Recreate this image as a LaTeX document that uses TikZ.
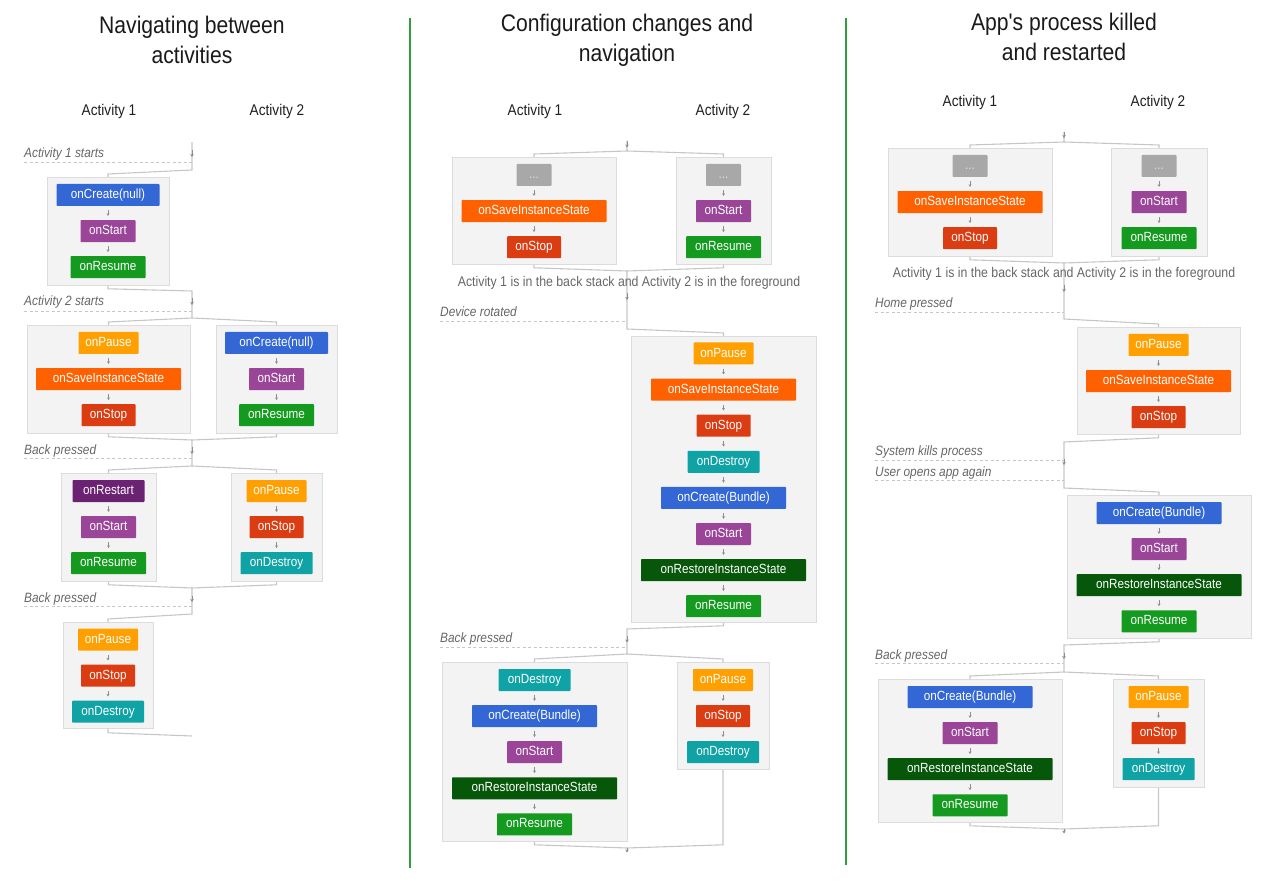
\documentclass[tikz,border=0pt]{standalone}
\usepackage{fontspec}
\setmainfont{Liberation Sans}[FakeStretch=0.88,Ligatures=TeXOff]
\usetikzlibrary{positioning,arrows.meta}
\definecolor{cBlue}{HTML}{3367D6}
\definecolor{cPurple}{HTML}{9A4598}
\definecolor{cGreen}{HTML}{149A1F}
\definecolor{cAmber}{HTML}{FFA000}
\definecolor{cSave}{HTML}{FF6100}
\definecolor{cStop}{HTML}{DB3C12}
\definecolor{cTeal}{HTML}{0FA3A6}
\definecolor{cRestart}{HTML}{6B2272}
\definecolor{cRestore}{HTML}{07570A}
\definecolor{cDots}{HTML}{A8A8A8}
\definecolor{cCont}{HTML}{F3F3F3}
\definecolor{cContB}{HTML}{DCDCDC}
\definecolor{cLine}{HTML}{C6C6C6}
\definecolor{cArr}{HTML}{8E8E8E}
\definecolor{cLbl}{HTML}{666666}
\definecolor{cDiv}{HTML}{2E9D3E}
\definecolor{cTitle}{HTML}{1A1A1A}
\newcommand\evarrow[2]{\draw[tarr] ([yshift=-4pt]#1.south) -- ([yshift=4pt]#2.north);}
\begin{document}
\begin{tikzpicture}[x=1pt,y=-1pt,node distance=13.7pt,
  ev/.style={rectangle,inner sep=0pt,minimum height=22pt,text=white,
    font=\fontsize{13.3}{15}\selectfont,text height=9.6pt,text depth=2.5pt,rounded corners=0.8pt},
  pause/.style={ev,fill=cAmber,minimum width=60pt},
  save/.style={ev,fill=cSave,minimum width=145pt},
  stopbox/.style={ev,fill=cStop,minimum width=54pt},
  destroy/.style={ev,fill=cTeal,minimum width=72pt},
  createN/.style={ev,fill=cBlue,minimum width=103pt},
  createB/.style={ev,fill=cBlue,minimum width=125pt},
  startbox/.style={ev,fill=cPurple,minimum width=55pt},
  resume/.style={ev,fill=cGreen,minimum width=75pt},
  restart/.style={ev,fill=cRestart,minimum width=72pt},
  restore/.style={ev,fill=cRestore,minimum width=165pt},
  dots/.style={ev,fill=cDots,minimum width=35pt,text=white!88!black},
  cont/.style={rectangle,fill=cCont,draw=cContB,line width=0.8pt,inner sep=0pt,anchor=north},
  conn/.style={draw=cLine,line width=1.1pt},
  tarr/.style={draw=cArr,line width=0.5pt,-{Stealth[length=2.6pt,width=3pt]}},
  sarr/.style={draw=cArr,line width=0.6pt,-{Stealth[length=3pt,width=3.6pt]}},
  dashl/.style={draw=cLine,line width=0.9pt,dash pattern=on 3pt off 2.5pt},
  lbl/.style={text=cLbl,font=\fontsize{13.5}{16}\selectfont\itshape,inner sep=0pt,anchor=base west},
  note/.style={text=cLbl,font=\fontsize{14}{16}\selectfont,inner sep=0pt},
  head/.style={text=black!88,font=\fontsize{15.5}{18}\selectfont,inner sep=0pt},
  title/.style={text=cTitle,font=\fontsize{24}{30}\selectfont,align=center,inner sep=0pt},
  divl/.style={draw=cDiv,line width=1.8pt}]
\useasboundingbox (0,0) rectangle (1272,890);

% dividers
\draw[divl] (410,18) -- (410,868);
\draw[divl] (846,18) -- (846,865);

% titles and headers
\node[title] (t1) at (192,40) {Navigating between\\activities};
\node[title] (t2) at (627,40) {Configuration changes and\\navigation};
\node[title] (t3) at (1064,37) {App's process killed\\and restarted};
\node[head] (h11) at (109,111) {Activity 1};
\node[head] (h12) at (277,111) {Activity 2};
\node[head] (h21) at (535,111) {Activity 1};
\node[head] (h22) at (723,111) {Activity 2};
\node[head] (h31) at (970,102) {Activity 1};
\node[head] (h32) at (1158,102) {Activity 2};

% ================= Column 1 =================
\node[lbl] (l11) at (24,157.5) {Activity 1 starts};
\draw[dashl] (24,162) -- (192,162);
\node[lbl] (l12) at (24,306) {Activity 2 starts};
\draw[dashl] (24,311) -- (192,311);
\node[lbl] (l13) at (24,454) {Back pressed};
\draw[dashl] (24,458) -- (192,458);
\node[lbl] (l14) at (24,602) {Back pressed};
\draw[dashl] (24,606) -- (192,606);

\node[cont,minimum width=122pt,minimum height=108pt] (b1) at (108,177) {};
\node[cont,minimum width=163pt,minimum height=108pt] (b2) at (108.5,325) {};
\node[cont,minimum width=121pt,minimum height=108pt] (b3) at (276.5,325) {};
\node[cont,minimum width=95pt,minimum height=108pt] (b4) at (108.5,473) {};
\node[cont,minimum width=91pt,minimum height=108pt] (b5) at (276.5,473) {};
\node[cont,minimum width=90pt,minimum height=106pt] (b6) at (108,622) {};

\coordinate (p1) at (192,142);
\coordinate (f1) at (192,170);
\coordinate (m1) at (192,291);
\coordinate (f2) at (192,318);
\coordinate (m2) at (192,440);
\coordinate (f3) at (192,466);
\coordinate (m3) at (192,588);
\coordinate (f4) at (192,614);
\coordinate (m4) at (192,736);

\draw[conn] (p1) -- (f1) -- ([yshift=3pt]b1.north) -- (b1.north);
\draw[conn] (b1.south) -- ([yshift=-3pt]b1.south) -- (m1) -- (f2) -- ([yshift=3pt]b2.north) -- (b2.north);
\draw[conn] (f2) -- ([yshift=3pt]b3.north) -- (b3.north);
\draw[conn] (b2.south) -- ([yshift=-3pt]b2.south) -- (m2);
\draw[conn] (b3.south) -- ([yshift=-3pt]b3.south) -- (m2) -- (f3) -- ([yshift=3pt]b4.north) -- (b4.north);
\draw[conn] (f3) -- ([yshift=3pt]b5.north) -- (b5.north);
\draw[conn] (b4.south) -- ([yshift=-3pt]b4.south) -- (m3);
\draw[conn] (b5.south) -- ([yshift=-3pt]b5.south) -- (m3) -- (f4) -- ([yshift=3pt]b6.north) -- (b6.north);
\draw[conn] (b6.south) -- ([yshift=-4pt]b6.south) -- (m4);
\draw[sarr] (192,150.5) -- (192,157);
\draw[sarr] (192,298.5) -- (192,305);
\draw[sarr] (192,447.5) -- (192,454);
\draw[sarr] (192,595.5) -- (192,602);

\node[createN] (b1a) at (108,195) {onCreate(null)};
\node[startbox,below=of b1a] (b1b) {onStart};
\node[resume,below=of b1b] (b1c) {onResume};
\evarrow{b1a}{b1b}\evarrow{b1b}{b1c}

\node[pause] (b2a) at (108.5,343) {onPause};
\node[save,below=of b2a] (b2b) {onSaveInstanceState};
\node[stopbox,below=of b2b] (b2c) {onStop};
\evarrow{b2a}{b2b}\evarrow{b2b}{b2c}

\node[createN] (b3a) at (276.5,343) {onCreate(null)};
\node[startbox,below=of b3a] (b3b) {onStart};
\node[resume,below=of b3b] (b3c) {onResume};
\evarrow{b3a}{b3b}\evarrow{b3b}{b3c}

\node[restart] (b4a) at (108.5,491) {onRestart};
\node[startbox,below=of b4a] (b4b) {onStart};
\node[resume,below=of b4b] (b4c) {onResume};
\evarrow{b4a}{b4b}\evarrow{b4b}{b4c}

\node[pause] (b5a) at (276.5,491) {onPause};
\node[stopbox,below=of b5a] (b5b) {onStop};
\node[destroy,below=of b5b] (b5c) {onDestroy};
\evarrow{b5a}{b5b}\evarrow{b5b}{b5c}

\node[pause] (b6a) at (108,639.5) {onPause};
\node[stopbox,below=of b6a] (b6b) {onStop};
\node[destroy,below=of b6b] (b6c) {onDestroy};
\evarrow{b6a}{b6b}\evarrow{b6b}{b6c}

% ================= Column 2 =================
\node[lbl] (l21) at (440,316.5) {Device rotated};
\draw[dashl] (440,321) -- (627,321);
\node[lbl] (l22) at (440,642) {Back pressed};
\draw[dashl] (440,647) -- (627,647);

\node[cont,minimum width=164pt,minimum height=107pt] (bA) at (534,157) {};
\node[cont,minimum width=95pt,minimum height=107pt] (bB) at (723.5,157) {};
\node[cont,minimum width=185pt,minimum height=286pt] (bC) at (723.5,336) {};
\node[cont,minimum width=185pt,minimum height=179pt] (bD) at (534.5,662) {};
\node[cont,minimum width=92pt,minimum height=107pt] (bE) at (723,662) {};

\coordinate (q0) at (627,141);
\coordinate (qf1) at (627,151);
\coordinate (qm1) at (627,271);
\coordinate (qf2) at (627,329);
\coordinate (qm2) at (627,629);
\coordinate (qf3) at (627,654);
\coordinate (qm3) at (627,848);
\coordinate (dD) at ([yshift=-3pt]bD.south);

\draw[conn] (q0) -- (qf1) -- ([yshift=3pt]bA.north) -- (bA.north);
\draw[conn] (qf1) -- ([yshift=3pt]bB.north) -- (bB.north);
\draw[conn] (bA.south) -- ([yshift=-3pt]bA.south) -- (qm1);
\draw[conn] (bB.south) -- ([yshift=-3pt]bB.south) -- (qm1) -- (qf2) -- ([yshift=3pt]bC.north) -- (bC.north);
\draw[conn] (bC.south) -- ([yshift=-3pt]bC.south) -- (qm2) -- (qf3) -- ([yshift=3pt]bD.north) -- (bD.north);
\draw[conn] (qf3) -- ([yshift=3pt]bE.north) -- (bE.north);
\draw[conn] (bD.south) -- (dD) -- (qm3);
\draw[conn] (bE.south) -- (bE.south |- dD) -- (qm3);
\draw[sarr] (627,141) -- (627,147.5);
\draw[sarr] (627,293.5) -- (627,300);
\draw[sarr] (627,636) -- (627,642.5);
\draw[sarr] (qm3) -- (627,852.5);

\node[note] (n2) at (629,283) {Activity 1 is in the back stack and Activity 2 is in the foreground};

\node[dots] (bAa) at (534,175) {...};
\node[save,below=of bAa] (bAb) {onSaveInstanceState};
\node[stopbox,below=of bAb] (bAc) {onStop};
\evarrow{bAa}{bAb}\evarrow{bAb}{bAc}

\node[dots] (bBa) at (723.5,175) {...};
\node[startbox,below=of bBa] (bBb) {onStart};
\node[resume,below=of bBb] (bBc) {onResume};
\evarrow{bBa}{bBb}\evarrow{bBb}{bBc}

\node[pause] (bC1) at (723.5,353.5) {onPause};
\node[save,below=of bC1] (bC2) {onSaveInstanceState};
\node[stopbox,below=of bC2] (bC3) {onStop};
\node[destroy,below=of bC3] (bC4) {onDestroy};
\node[createB,below=of bC4] (bC5) {onCreate(Bundle)};
\node[startbox,below=of bC5] (bC6) {onStart};
\node[restore,below=of bC6] (bC7) {onRestoreInstanceState};
\node[resume,below=of bC7] (bC8) {onResume};
\evarrow{bC1}{bC2}\evarrow{bC2}{bC3}\evarrow{bC3}{bC4}\evarrow{bC4}{bC5}
\evarrow{bC5}{bC6}\evarrow{bC6}{bC7}\evarrow{bC7}{bC8}

\node[destroy] (bD1) at (534.5,680) {onDestroy};
\node[createB,below=of bD1] (bD2) {onCreate(Bundle)};
\node[startbox,below=of bD2] (bD3) {onStart};
\node[restore,below=of bD3] (bD4) {onRestoreInstanceState};
\node[resume,below=of bD4] (bD5) {onResume};
\evarrow{bD1}{bD2}\evarrow{bD2}{bD3}\evarrow{bD3}{bD4}\evarrow{bD4}{bD5}

\node[pause] (bE1) at (723,680) {onPause};
\node[stopbox,below=of bE1] (bE2) {onStop};
\node[destroy,below=of bE2] (bE3) {onDestroy};
\evarrow{bE1}{bE2}\evarrow{bE2}{bE3}

% ================= Column 3 =================
\node[lbl] (l31) at (875,307.5) {Home pressed};
\draw[dashl] (875,312) -- (1064,312);
\node[lbl] (l32) at (875,455.5) {System kills process};
\draw[dashl] (875,460) -- (1064,460);
\node[lbl] (l33) at (875,476) {User opens app again};
\draw[dashl] (875,480) -- (1064,480);
\node[lbl] (l34) at (875,659.5) {Back pressed};
\draw[dashl] (875,663) -- (1064,663);

\node[cont,minimum width=164pt,minimum height=108pt] (bF) at (970,148) {};
\node[cont,minimum width=96pt,minimum height=108pt] (bG) at (1159,148) {};
\node[cont,minimum width=163pt,minimum height=107pt] (bH) at (1158.5,327) {};
\node[cont,minimum width=184pt,minimum height=143pt] (bI) at (1159,495) {};
\node[cont,minimum width=184pt,minimum height=143pt] (bJ) at (970,679) {};
\node[cont,minimum width=91pt,minimum height=108pt] (bK) at (1158.5,679) {};

\coordinate (r0) at (1064,132);
\coordinate (rf1) at (1064,142);
\coordinate (rm1) at (1064,263);
\coordinate (rf2) at (1064,319);
\coordinate (rm2) at (1064,442);
\coordinate (rf3) at (1064,488);
\coordinate (rm3) at (1064,645);
\coordinate (rf4) at (1064,672);
\coordinate (rm4) at (1064,829);
\coordinate (dJ) at ([yshift=-3pt]bJ.south);

\draw[conn] (r0) -- (rf1) -- ([yshift=3pt]bF.north) -- (bF.north);
\draw[conn] (rf1) -- ([yshift=3pt]bG.north) -- (bG.north);
\draw[conn] (bF.south) -- ([yshift=-3pt]bF.south) -- (rm1);
\draw[conn] (bG.south) -- ([yshift=-3pt]bG.south) -- (rm1) -- (rf2) -- ([yshift=3pt]bH.north) -- (bH.north);
\draw[conn] (bH.south) -- ([yshift=-3pt]bH.south) -- (rm2) -- (rf3) -- ([yshift=3pt]bI.north) -- (bI.north);
\draw[conn] (bI.south) -- ([yshift=-3pt]bI.south) -- (rm3) -- (rf4) -- ([yshift=3pt]bJ.north) -- (bJ.north);
\draw[conn] (rf4) -- ([yshift=3pt]bK.north) -- (bK.north);
\draw[conn] (bJ.south) -- (dJ) -- (rm4);
\draw[conn] (bK.south) -- (bK.south |- dJ) -- (rm4);
\draw[sarr] (1064,132) -- (1064,138);
\draw[sarr] (1064,285.5) -- (1064,292);
\draw[sarr] (1064,458.5) -- (1064,465);
\draw[sarr] (1064,652.5) -- (1064,659);
\draw[sarr] (rm4) -- (1064,833.5);

\node[note] (n3) at (1064,274) {Activity 1 is in the back stack and Activity 2 is in the foreground};

\node[dots] (bFa) at (970,166) {...};
\node[save,below=of bFa] (bFb) {onSaveInstanceState};
\node[stopbox,below=of bFb] (bFc) {onStop};
\evarrow{bFa}{bFb}\evarrow{bFb}{bFc}

\node[dots] (bGa) at (1159,166) {...};
\node[startbox,below=of bGa] (bGb) {onStart};
\node[resume,below=of bGb] (bGc) {onResume};
\evarrow{bGa}{bGb}\evarrow{bGb}{bGc}

\node[pause] (bH1) at (1158.5,345) {onPause};
\node[save,below=of bH1] (bH2) {onSaveInstanceState};
\node[stopbox,below=of bH2] (bH3) {onStop};
\evarrow{bH1}{bH2}\evarrow{bH2}{bH3}

\node[createB] (bI1) at (1159,513) {onCreate(Bundle)};
\node[startbox,below=of bI1] (bI2) {onStart};
\node[restore,below=of bI2] (bI3) {onRestoreInstanceState};
\node[resume,below=of bI3] (bI4) {onResume};
\evarrow{bI1}{bI2}\evarrow{bI2}{bI3}\evarrow{bI3}{bI4}

\node[createB] (bJ1) at (970,697) {onCreate(Bundle)};
\node[startbox,below=of bJ1] (bJ2) {onStart};
\node[restore,below=of bJ2] (bJ3) {onRestoreInstanceState};
\node[resume,below=of bJ3] (bJ4) {onResume};
\evarrow{bJ1}{bJ2}\evarrow{bJ2}{bJ3}\evarrow{bJ3}{bJ4}

\node[pause] (bK1) at (1158.5,697) {onPause};
\node[stopbox,below=of bK1] (bK2) {onStop};
\node[destroy,below=of bK2] (bK3) {onDestroy};
\evarrow{bK1}{bK2}\evarrow{bK2}{bK3}
\end{tikzpicture}
\end{document}
